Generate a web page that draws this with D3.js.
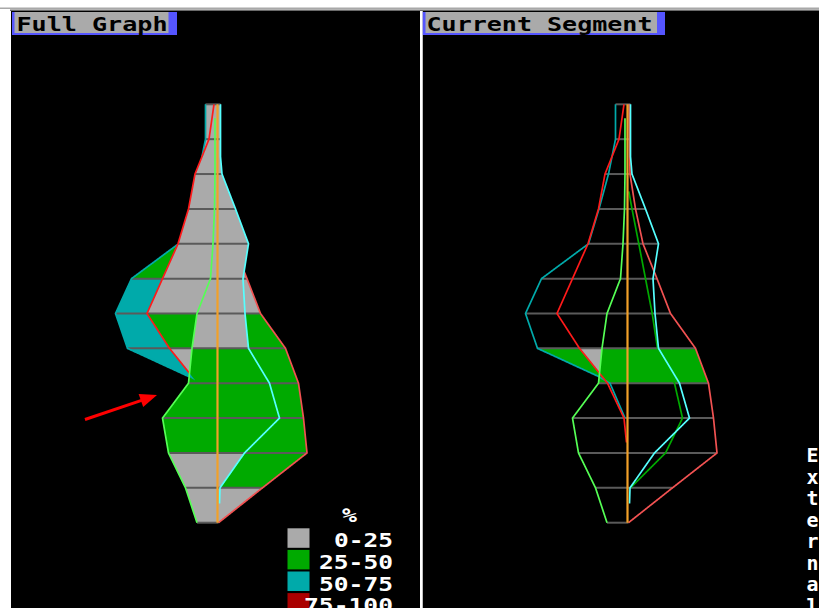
<!DOCTYPE html>
<html>
<head>
<meta charset="utf-8">
<script src="https://cdnjs.cloudflare.com/ajax/libs/d3/7.8.5/d3.min.js"></script>
<style>
  html, body { margin: 0; padding: 0; background: #fff; overflow: hidden; }
  svg { display: block; }
  .pix { font-family: "DejaVu Sans Mono", "Liberation Mono", monospace; font-weight: bold; }
</style>
</head>
<body>
<svg id="chart" width="819" height="608"></svg>
<script>
// ---- Profile lines: [row level, offset] pairs (row 0 = top, row 12 = bottom) ----
const tealLine = [[0, -12], [1, -12], [2, -19], [3, -28.5], [4, -39], [5, -86], [6, -102], [7, -90], [7.8, -29.5], [8, -17.5], [9, -2.5]];
const redLine = [[0, -3.5], [1, -8.5], [2, -22.5], [3, -29], [4, -39.5], [5, -55], [6, -70.5], [7, -48], [8, -20], [9, -3.5], [9.7, -1]];
const lightGreenLine = [[0.4, -2.5], [1, -2.5], [2, -2.5], [3, -3], [4, -4.5], [5, -7], [6, -20.5], [7, -25.5], [8, -29], [9, -55], [10, -49], [11, -32], [12, -20.5]];
const cyanLine = [[0, 3], [1.5, 3], [2, 4.5], [3, 18], [4, 31], [5, 25.5], [6, 27.5], [7, 31], [8, 52], [9, 62], [10, 27], [11, 2.5], [11.45, 2]];
const darkGreenLine = [[2.5, 1.3], [3, 4.5], [4, 11.3], [5, 18], [6, 24.7], [7, 30], [8, 47], [9, 55], [10, 38], [11, 3]];
const salmonLine = [[0, 1.5], [2, 2.5], [3, 8], [4, 15.5], [5, 29.5], [6, 43], [7, 68], [8, 81], [9, 86], [10, 89.5], [11, 45], [12, 1]];
const medianLine = [[0, 0], [12, 0]];

const rowLevels = d3.range(0, 13);

// ---- Percentage categories ----
const categories = ["0-25", "25-50", "50-75", "75-100"];
const categoryColors = ["#aaaaaa", "#00aa00", "#00aaaa", "#aa0000"];

// Full graph: base category of every band, then overlaid cells [band, fromLine, toLine, category]
const fullBandBase = [0, 0, 0, 0, 0, 0, 0, 1, 1, 1, 1, 0];
const fullCells = [
  [4, "teal", "red", 1],
  [5, "teal", "red", 2],
  [6, "teal", "red", 2], [6, "red", "lightGreen", 1], [6, "cyan", "salmon", 1],
  [7, "teal", "red", 2], [7, "red", "lightGreen", 0],
  [10, "lightGreen", "cyan", 0]
];

// Current segment: only one band is shaded
const segmentBands = [7];
const segmentBandBase = [1];
const segmentCells = [[7, "red", "lightGreen", 0]];

const panelTitles = ["Full Graph", "Current Segment"];
const sideLabel = "External";

// ---- Setup ----
const series = {
  teal: tealLine, red: redLine, darkGreen: darkGreenLine, salmon: salmonLine,
  lightGreen: lightGreenLine, cyan: cyanLine, median: medianLine
};
const lineColors = {
  teal: "#00aaaa", red: "#ff1a1a", darkGreen: "#00aa00", salmon: "#f25252",
  lightGreen: "#55ff55", cyan: "#55ffff", median: "#f2a028"
};

const svg = d3.select("#chart");
const W = 819, H = 608;

const y = d3.scaleLinear().domain([0, 12]).range([104.3, 522.7]);
const STEP = 80;

function valueAt(pts, t) {
  if (t < pts[0][0] - 1e-9 || t > pts[pts.length - 1][0] + 1e-9) return undefined;
  for (let i = 0; i < pts.length - 1; i++) {
    const [t0, v0] = pts[i], [t1, v1] = pts[i + 1];
    if (t >= t0 - 1e-9 && t <= t1 + 1e-9) {
      const f = t1 === t0 ? 0 : Math.max(0, Math.min(1, (t - t0) / (t1 - t0)));
      return v0 + f * (v1 - v0);
    }
  }
  return pts[pts.length - 1][1];
}
function envelope(t) {
  let lo = Infinity, hi = -Infinity;
  for (const k in series) {
    const v = valueAt(series[k], t);
    if (v !== undefined) { lo = Math.min(lo, v); hi = Math.max(hi, v); }
  }
  return [lo, hi];
}
function samples(a, b) {
  const out = [];
  for (let k = Math.round(a * STEP); k <= Math.round(b * STEP); k++) out.push(k / STEP);
  return out;
}
function cellPoints(band, from, to) {
  const L = [], R = [];
  samples(band, band + 1).forEach(t => {
    const [lo, hi] = envelope(t);
    const l = from === "min" ? lo : valueAt(series[from], t);
    const r = to === "max" ? hi : valueAt(series[to], t);
    if (l === undefined || r === undefined) return;
    L.push([t, l]); R.push([t, Math.max(l, r)]);
  });
  return L.concat(R.reverse());
}

// ---- Frame ----
svg.append("rect").attr("width", W).attr("height", H).attr("fill", "#ffffff");
svg.append("rect").attr("x", 0).attr("y", 7.5).attr("width", W).attr("height", 1.5).attr("fill", "#a8a8a8");
svg.append("rect").attr("x", 10).attr("y", 9.5).attr("width", W - 10).attr("height", 1.5).attr("fill", "#6a6a6a");
svg.append("rect").attr("x", 11).attr("y", 11).attr("width", 409).attr("height", H - 11).attr("fill", "#000");
svg.append("rect").attr("x", 422.5).attr("y", 11).attr("width", W - 422.5).attr("height", H - 11).attr("fill", "#000");

function drawPanel(cx, opts) {
  const x = d3.scaleLinear().domain([-110, 110]).range([cx - 110, cx + 110]);
  const g = svg.append("g");
  const poly = d3.line().x(d => x(d[1])).y(d => y(d[0]));

  // band shading
  opts.bands.forEach((band, i) => {
    g.append("path").attr("d", poly(cellPoints(band, "min", "max")) + "Z")
      .attr("fill", categoryColors[opts.base[i]]);
  });
  opts.cells.forEach(([band, from, to, cat]) => {
    g.append("path").attr("d", poly(cellPoints(band, from, to)) + "Z")
      .attr("fill", categoryColors[cat]);
  });

  // row lines across the profile
  g.selectAll("line.row").data(rowLevels).enter().append("line")
    .attr("class", "row")
    .attr("x1", d => x(envelope(d)[0])).attr("x2", d => x(envelope(d)[1]))
    .attr("y1", d => y(d)).attr("y2", d => y(d))
    .attr("stroke", "#5a5a5a").attr("stroke-width", 2);

  // profile lines
  opts.lines.forEach(([key, rule]) => {
    const pts = series[key];
    const data = samples(pts[0][0], pts[pts.length - 1][0]).map(t => {
      const v = valueAt(pts, t);
      const [lo, hi] = envelope(t);
      let ok = true;
      if (rule === "outerLeft") ok = v <= lo + 1e-6;
      if (rule === "outerRight") ok = v >= hi - 1e-6;
      if (rule === "leftOfLightGreen") {
        const gv = valueAt(series.lightGreen, t);
        ok = gv === undefined || v <= gv + 1e-6;
      }
      return { t, v, ok };
    });
    g.append("path")
      .attr("d", d3.line().defined(d => d.ok).x(d => x(d.v)).y(d => y(d.t))(data))
      .attr("fill", "none")
      .attr("stroke", lineColors[key])
      .attr("stroke-width", key === "median" ? 2.2 : 1.7)
      .attr("stroke-linejoin", "round");
  });
}

drawPanel(217.5, {
  bands: d3.range(0, 12), base: fullBandBase, cells: fullCells,
  lines: [["teal", "outerLeft"], ["salmon", "outerRight"], ["red", "leftOfLightGreen"],
          ["lightGreen", "full"], ["cyan", "full"], ["median", "full"]]
});
drawPanel(627.5, {
  bands: segmentBands, base: segmentBandBase, cells: segmentCells,
  lines: [["teal", "full"], ["red", "full"], ["salmon", "full"], ["darkGreen", "full"],
          ["cyan", "full"], ["lightGreen", "full"], ["median", "full"]]
});

// ---- Panel titles ----
const titleBoxes = [
  { x0: 12, x1: 177, gx0: 14.5, gx1: 168.5, tx: 16.5, len: 151 },
  { x0: 422.5, x1: 665, gx0: 425.5, gx1: 657, tx: 426.5, len: 226 }
];
titleBoxes.forEach((b, i) => {
  svg.append("rect").attr("x", b.x0).attr("y", 12).attr("width", b.x1 - b.x0).attr("height", 23).attr("fill", "#5555ff");
  svg.append("rect").attr("x", b.gx0).attr("y", 12).attr("width", b.gx1 - b.gx0).attr("height", 21).attr("fill", "#aaaaaa");
  svg.append("text").attr("class", "pix").attr("x", b.tx).attr("y", 30.5)
    .attr("font-size", 19).attr("fill", "#000")
    .attr("textLength", b.len).attr("lengthAdjust", "spacingAndGlyphs")
    .text(panelTitles[i]);
});

// ---- Legend ----
const legend = svg.append("g");
legend.append("text").attr("class", "pix").attr("x", 342).attr("y", 522)
  .attr("font-size", 19).attr("fill", "#fff").attr("textLength", 15)
  .attr("lengthAdjust", "spacingAndGlyphs").text("%");
categories.forEach((c, i) => {
  const top = 528.3 + i * 21.6;
  legend.append("rect").attr("x", 287.5).attr("y", top).attr("width", 22).attr("height", 19.5)
    .attr("fill", categoryColors[i]);
  const w = c.length * 15 - 1;
  legend.append("text").attr("class", "pix").attr("x", 393 - w).attr("y", top + 19)
    .attr("font-size", 19).attr("fill", "#fff")
    .attr("textLength", w).attr("lengthAdjust", "spacingAndGlyphs").text(c);
});

// ---- Vertical side label ----
sideLabel.split("").forEach((ch, i) => {
  svg.append("text").attr("class", "pix").attr("x", 806.5).attr("y", 462 + i * 21.5)
    .attr("font-size", 19).attr("fill", "#fff")
    .attr("textLength", 12).attr("lengthAdjust", "spacingAndGlyphs").text(ch);
});

// ---- Divider between panels (drawn last so it stays on top) ----
svg.append("rect").attr("x", 420).attr("y", 11).attr("width", 2.5).attr("height", H - 11).attr("fill", "#fff");

// ---- Pointer arrow ----
svg.append("line").attr("x1", 85).attr("y1", 419.5).attr("x2", 146).attr("y2", 398.8)
  .attr("stroke", "#ff0000").attr("stroke-width", 3);
svg.append("path").attr("d", "M157,395 L138.6,393.9 L143.2,407.1 Z").attr("fill", "#ff0000");
</script>
</body>
</html>
